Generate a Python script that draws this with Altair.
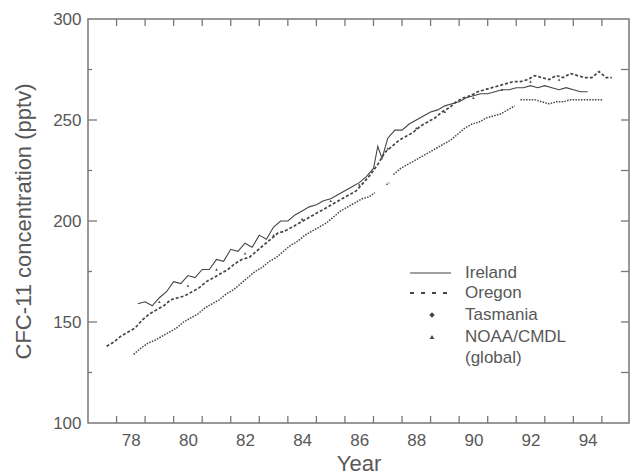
import altair as alt
import pandas as pd

# ---------------- data ----------------
ire_year = [78.75, 79.0, 79.25, 79.5, 79.75, 80.0, 80.25, 80.5, 80.75, 81.0, 81.25, 81.5, 81.75,
            82.0, 82.25, 82.5, 82.75, 83.0, 83.25, 83.5, 83.75, 84.0, 84.25, 84.5, 84.75, 85.0,
            85.25, 85.5, 85.75, 86.0, 86.25, 86.5, 86.75, 87.0, 87.15, 87.3, 87.5, 87.75, 88.0,
            88.25, 88.5, 88.75, 89.0, 89.25, 89.5, 89.75, 90.0, 90.25, 90.5, 90.75, 91.0, 91.25,
            91.5, 91.75, 92.0, 92.25, 92.5, 92.75, 93.0, 93.25, 93.5, 93.75, 94.0, 94.25, 94.5]
ire_val = [159, 160, 158, 162, 165, 170, 169, 173, 172, 176, 176, 181, 180,
           186, 185, 189, 187, 193, 191, 197, 200, 200, 203, 205, 207, 208,
           210, 211, 213, 215, 217, 219, 222, 226, 237, 231, 241, 245, 245,
           248, 250, 252, 254, 255, 257, 258, 259, 261, 262, 263, 263, 264,
           265, 265, 266, 266, 267, 266, 267, 266, 265, 266, 265, 264, 264]

ore_year = [77.65, 77.9, 78.15, 78.4, 78.65, 78.9, 79.15, 79.4, 79.65, 79.9, 80.15, 80.4, 80.65,
            80.9, 81.15, 81.4, 81.65, 81.9, 82.15, 82.4, 82.65, 82.9, 83.15, 83.4, 83.65, 83.9,
            84.15, 84.4, 84.65, 84.9, 85.15, 85.4, 85.65, 85.9, 86.15, 86.4, 86.65, 86.9, 87.15,
            87.4, 87.65, 87.9, 88.15, 88.4, 88.65, 88.9, 89.15, 89.4, 89.65, 89.9, 90.15, 90.4,
            90.65, 90.9, 91.15, 91.4, 91.65, 91.9, 92.15, 92.4, 92.65, 92.9, 93.15, 93.4, 93.65,
            93.9, 94.15, 94.4, 94.65, 94.9, 95.15, 95.35]
ore_val = [138, 140, 143, 145, 147, 151, 154, 156, 158, 161, 162, 163, 165,
           167, 170, 172, 174, 176, 179, 181, 182, 185, 188, 191, 194, 195,
           197, 199, 201, 203, 205, 207, 209, 211, 213, 215, 219, 223, 228,
           234, 237, 240, 242, 244, 247, 249, 251, 254, 256, 259, 261, 262,
           264, 265, 266, 267, 268, 269, 269, 270, 272, 271, 270, 272, 271,
           273, 272, 271, 271, 274, 271, 271]

tas_year = [78.6, 78.85, 79.1, 79.35, 79.6, 79.85, 80.1, 80.35, 80.6, 80.85, 81.1, 81.35, 81.6,
            81.85, 82.1, 82.35, 82.6, 82.85, 83.1, 83.35, 83.6, 83.85, 84.1, 84.35, 84.6, 84.85,
            85.1, 85.35, 85.6, 85.85, 86.1, 86.35, 86.6, 86.85, 87.05,
            87.45, 87.55,
            87.7, 87.95, 88.2, 88.45, 88.7, 88.95, 89.2, 89.45, 89.7, 89.95, 90.2, 90.45, 90.7,
            90.95, 91.2, 91.45, 91.7, 91.95,
            92.15, 92.4, 92.65, 92.9, 93.15, 93.4, 93.65, 93.9, 94.15, 94.4, 94.65, 94.9, 95.05]
tas_val = [134, 137, 139.5, 141, 143, 145, 147, 150, 152, 154, 157, 159, 161,
           164, 166, 169, 172, 175, 177, 180, 182, 185, 188, 190, 193, 195,
           197, 199, 202, 205, 207, 209, 211, 212, 214,
           218, 219,
           223, 226, 228, 230, 232, 234, 236, 238, 240, 243, 246, 248, 249,
           251, 252, 253, 255, 257,
           260, 260, 260, 259, 258, 259, 259, 260, 260, 260, 260, 260, 260]
tas_seg = [1] * 35 + [2] * 2 + [3] * 18 + [4] * 13

noaa_year = [79.5, 80.5, 81.5, 82.5, 83.5, 84.5, 85.5, 86.5, 87.5, 88.5, 89.5, 90.5, 91.5, 92.5, 93.5]
noaa_val = [160, 168, 176, 184, 193, 201, 210, 218, 236, 246, 254, 261, 265, 269, 270]

x_ticks = list(range(78, 96))
x_labels = [78, 80, 82, 84, 86, 88, 90, 92, 94]
y_major = [100, 150, 200, 250, 300]
y_minor = [125, 175, 225, 275]
y_all = [125, 150, 175, 200, 225, 250, 275]
legend_labels = ["Ireland", "Oregon", "Tasmania", "NOAA/CMDL", "(global)"]

# ---------------- chart ----------------
W, H = 541, 404
INK = "#454545"
TXT = "#585858"
FONT = "Liberation Sans"

xscale = alt.Scale(domain=[77, 95.95], nice=False, zero=False)
yscale = alt.Scale(domain=[100, 300], nice=False, zero=False)
xaxis = alt.Axis(values=[v + 0.5 for v in x_labels], labelExpr="floor(datum.value)",
                 ticks=False, domain=False, grid=False, title="Year",
                 labelFontSize=17, titleFontSize=22, labelPadding=9, titlePadding=5,
                 labelColor=TXT, titleColor=TXT, titleFontWeight="normal",
                 labelFont=FONT, titleFont=FONT)
yaxis = alt.Axis(values=y_major, ticks=False, domain=False, grid=False,
                 title="CFC-11 concentration (pptv)",
                 labelFontSize=17, titleFontSize=22, labelPadding=7, titlePadding=17,
                 labelColor=TXT, titleColor=TXT, titleFontWeight="normal",
                 labelFont=FONT, titleFont=FONT)

X = alt.X("year:Q", scale=xscale, axis=xaxis)
Y = alt.Y("cfc:Q", scale=yscale, axis=yaxis)

df_ire = pd.DataFrame({"year": ire_year, "cfc": ire_val})
df_ore = pd.DataFrame({"year": ore_year, "cfc": ore_val})
df_tas = pd.DataFrame({"year": tas_year, "cfc": tas_val, "seg": tas_seg})
df_noaa = pd.DataFrame({"year": noaa_year, "cfc": noaa_val})

ire = alt.Chart(df_ire).mark_line(color=INK, strokeWidth=1.1).encode(x=X, y=Y)
ore = alt.Chart(df_ore).mark_line(color=INK, strokeWidth=1.7, strokeDash=[3, 2]).encode(x=X, y=Y)
tas = alt.Chart(df_tas).mark_line(color=INK, strokeWidth=1.5, strokeDash=[1.5, 1.3]).encode(
    x=X, y=Y, detail="seg:N")
noaa = alt.Chart(df_noaa).mark_point(shape="triangle-up", filled=True, size=7, color=INK,
                                     opacity=1).encode(x=X, y=Y)

df_xt = pd.DataFrame({"year": x_ticks})
tick_b = alt.Chart(df_xt).mark_rule(color="#777", strokeWidth=1.3).encode(
    x=X, y=alt.value(H), y2=alt.value(H - 7))
tick_t = alt.Chart(df_xt).mark_rule(color="#777", strokeWidth=1.3).encode(
    x=X, y=alt.value(0), y2=alt.value(7))
df_ymaj = pd.DataFrame({"cfc": [150, 200, 250]})
df_ymin = pd.DataFrame({"cfc": y_minor})
df_yall = pd.DataFrame({"cfc": y_all})
tick_lmaj = alt.Chart(df_ymaj).mark_rule(color="#777", strokeWidth=1.3).encode(
    y=Y, x=alt.value(0), x2=alt.value(9))
tick_lmin = alt.Chart(df_ymin).mark_rule(color="#777", strokeWidth=1.3).encode(
    y=Y, x=alt.value(0), x2=alt.value(4))
tick_r = alt.Chart(df_yall).mark_rule(color="#777", strokeWidth=1.3).encode(
    y=Y, x=alt.value(W), x2=alt.value(W - 8))

# ---------------- legend (one row each) ----------------
one = pd.DataFrame({"k": [0]})
LX_T = 377
LY = [254, 274, 296, 318, 339]
leg = []
leg.append(alt.Chart(one).mark_rule(color=INK, strokeWidth=1.1).encode(
    x=alt.value(322), x2=alt.value(363), y=alt.value(LY[0])))
leg.append(alt.Chart(one).mark_rule(color=INK, strokeWidth=1.8, strokeDash=[4, 7]).encode(
    x=alt.value(322), x2=alt.value(366), y=alt.value(LY[1])))
leg.append(alt.Chart(one).mark_point(shape="diamond", filled=True, size=30, color=INK,
                                     opacity=1).encode(x=alt.value(344), y=alt.value(LY[2])))
leg.append(alt.Chart(one).mark_point(shape="triangle-up", filled=True, size=22, color=INK,
                                     opacity=1).encode(x=alt.value(344), y=alt.value(LY[3])))
for lab, ly in zip(legend_labels, LY):
    leg.append(alt.Chart(one).mark_text(text=lab, align="left", baseline="middle",
                                        fontSize=17, font=FONT, color=TXT).encode(
        x=alt.value(LX_T), y=alt.value(ly)))

chart = alt.layer(tick_b, tick_t, tick_lmaj, tick_lmin, tick_r,
                  tas, ore, ire, noaa, *leg).properties(
    width=W, height=H,
    autosize=alt.AutoSizeParams(type="none"),
    padding={"left": 88, "top": 19, "right": 4, "bottom": 53},
    background="white",
).configure_view(stroke="#777", strokeWidth=1.5)

chart.save("out.html", embed_options={"renderer": "svg", "actions": False})
